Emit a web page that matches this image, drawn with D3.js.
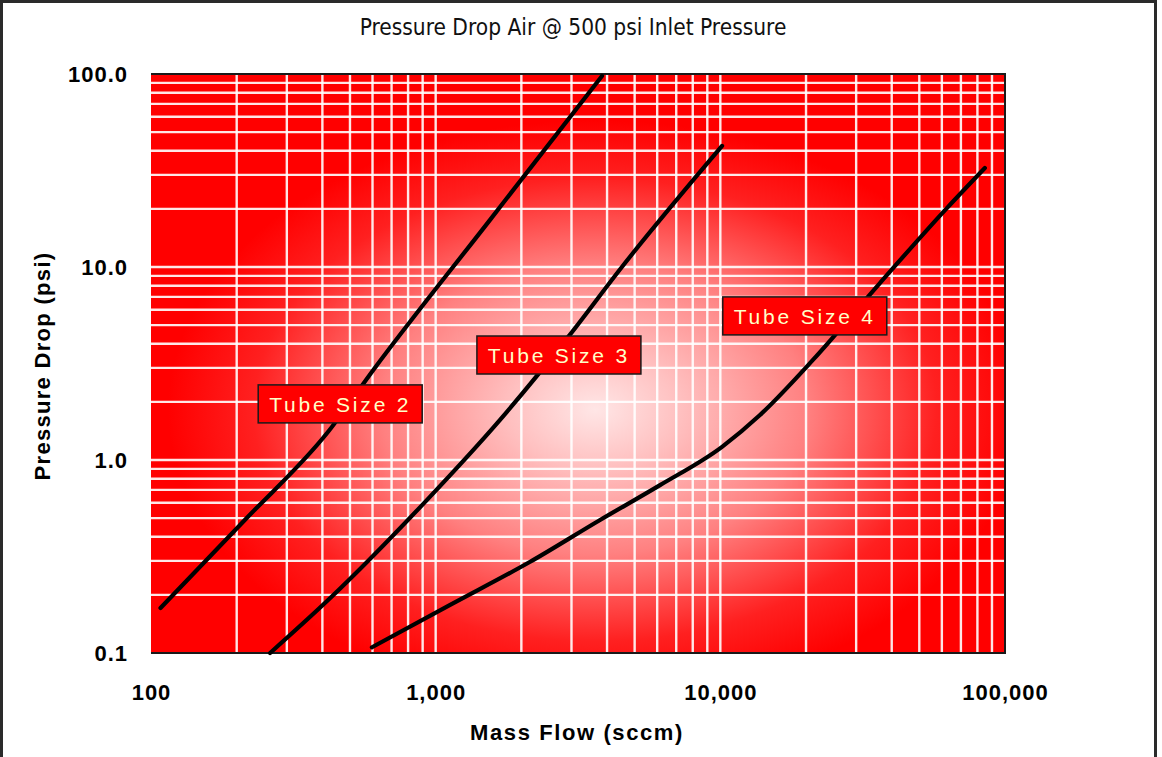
<!DOCTYPE html>
<html>
<head>
<meta charset="utf-8">
<script src="https://cdn.jsdelivr.net/npm/d3@7"></script>
<style>
  body { margin: 0; background: #fff; }
  svg { display: block; }
</style>
</head>
<body>
<div id="chart"></div>
<script>
// Chart size
var svgWidth = 1162;
var svgHeight = 757;

// plot box in pixels
var plot = { left: 151, top: 74, right: 1005, bottom: 653 };

// Data (mass flow in sccm, pressure drop in psi)
var seriesNames = ["Tube Size 2", "Tube Size 3", "Tube Size 4"];

var tube2Flow = [108, 214, 419, 603, 1550, 3840];
var tube2Drop = [0.171, 0.49, 1.40, 2.92, 17.5, 97.7];

var tube3Flow = [262, 419, 931, 1680, 2960, 4510, 10140];
var tube3Drop = [0.10, 0.188, 0.62, 1.61, 4.45, 10.0, 42.4];

var tube4Flow = [597, 1120, 2140, 3780, 6140, 10140, 13780, 21150, 36360, 62500, 84960];
var tube4Drop = [0.107, 0.177, 0.296, 0.489, 0.741, 1.17, 1.71, 3.30, 8.26, 20.2, 32.6];

var xTicks = [100, 1000, 10000, 100000];
var yTicks = [0.1, 1, 10, 100];

var svg = d3.select("#chart")
    .append("svg")
    .attr("width", svgWidth)
    .attr("height", svgHeight);

// outer frame
svg.append("rect")
    .attr("x", 1.5).attr("y", 1.5)
    .attr("width", 1154).attr("height", 790)
    .attr("fill", "none")
    .attr("stroke", "#2a2a2a")
    .attr("stroke-width", 3);

// Scales
var x = d3.scaleLog()
    .domain([100, 100000])
    .range([plot.left, plot.right]);
var y = d3.scaleLog()
    .domain([0.1, 100])
    .range([plot.bottom, plot.top]);

// background glow
var defs = svg.append("defs");
var grad = defs.append("radialGradient")
    .attr("id", "glow")
    .attr("cx", 0.52).attr("cy", 0.58).attr("r", 0.5);
[[0, "#ffe6e6"], [0.2, "#ffc0c0"], [0.5, "#ff8080"], [0.8, "#ff2020"], [1, "#ff0000"]]
    .forEach(function(s) {
        grad.append("stop").attr("offset", s[0]).attr("stop-color", s[1]);
    });

svg.append("rect")
    .attr("x", plot.left).attr("y", plot.top)
    .attr("width", plot.right - plot.left)
    .attr("height", plot.bottom - plot.top)
    .attr("fill", "url(#glow)");

// grid lines, every 1..9 in each decade
var gridX = x.ticks().filter(function(d) { return d > 100 && d < 100000; });
var gridY = y.ticks().filter(function(d) { return d > 0.1 && d < 100; });

svg.append("g").selectAll("line")
    .data(gridX)
    .enter()
    .append("line")
    .attr("x1", d => x(d)).attr("x2", d => x(d))
    .attr("y1", plot.top).attr("y2", plot.bottom)
    .attr("stroke", "#fff")
    .attr("stroke-opacity", 0.9)
    .attr("stroke-width", 2.4);

svg.append("g").selectAll("line")
    .data(gridY)
    .enter()
    .append("line")
    .attr("y1", d => y(d)).attr("y2", d => y(d))
    .attr("x1", plot.left).attr("x2", plot.right)
    .attr("stroke", "#fff")
    .attr("stroke-opacity", 0.9)
    .attr("stroke-width", 2.4);

// plot border: top, right, bottom
svg.append("path")
    .attr("d", "M" + plot.left + "," + plot.top + "H" + plot.right + "V" + plot.bottom + "H" + plot.left)
    .attr("fill", "none")
    .attr("stroke", "#1a1a1a")
    .attr("stroke-width", 2);

// curves
var line = d3.line()
    .x(d => x(d[0]))
    .y(d => y(d[1]))
    .curve(d3.curveMonotoneX);

[[tube2Flow, tube2Drop], [tube3Flow, tube3Drop], [tube4Flow, tube4Drop]].forEach(function(s) {
    svg.append("path")
        .datum(d3.zip(s[0], s[1]))
        .attr("d", line)
        .attr("fill", "none")
        .attr("stroke", "#000")
        .attr("stroke-width", 4.2)
        .attr("stroke-linecap", "round");
});

// series labels (top-left corner of each box, in data units)
var labelAt = [[238, 2.45], [1396, 4.39], [10200, 7.0]];
seriesNames.forEach(function(name, i) {
    var bx = x(labelAt[i][0]), by = y(labelAt[i][1]);
    svg.append("rect")
        .attr("x", bx).attr("y", by)
        .attr("width", 164).attr("height", 38)
        .attr("fill", "#ff0000")
        .attr("stroke", "#1a1a1a")
        .attr("stroke-width", 1.5);
    svg.append("text")
        .attr("x", bx + 82).attr("y", by + 27)
        .attr("text-anchor", "middle")
        .attr("font-family", "Liberation Sans, Arial, sans-serif")
        .attr("font-size", "21px")
        .attr("letter-spacing", "2.8px")
        .attr("fill", "#ffffc8")
        .text(name);
});

// axes
var xAxis = d3.axisBottom(x).tickValues(xTicks).tickFormat(d3.format(",")).tickSize(0);
var yAxis = d3.axisLeft(y).tickValues(yTicks).tickFormat(d3.format(".1f")).tickSize(0);

var gx = svg.append("g")
    .attr("transform", `translate(0, ${plot.bottom})`)
    .call(xAxis);
var gy = svg.append("g")
    .attr("transform", `translate(${plot.left}, 0)`)
    .call(yAxis);

gx.select(".domain").remove();
gy.select(".domain").remove();

gx.selectAll("text")
    .attr("dy", 0)
    .attr("y", 47)
    .attr("font-family", "Liberation Sans, Arial, sans-serif")
    .attr("font-weight", "bold")
    .attr("font-size", "22px")
    .attr("letter-spacing", "1px")
    .attr("fill", "#000");
gy.selectAll("text")
    .attr("dy", "0.35em")
    .attr("x", -23)
    .attr("font-family", "Liberation Sans, Arial, sans-serif")
    .attr("font-weight", "bold")
    .attr("font-size", "22px")
    .attr("letter-spacing", "1px")
    .attr("fill", "#000");

// titles
svg.append("text")
    .attr("x", 573).attr("y", 35)
    .attr("text-anchor", "middle")
    .attr("font-family", "DejaVu Sans Condensed, Liberation Sans Narrow, sans-serif")
    .attr("font-size", "22.5px")
    .attr("fill", "#111")
    .text("Pressure Drop Air @ 500 psi Inlet Pressure");

svg.append("text")
    .attr("x", 577).attr("y", 740)
    .attr("text-anchor", "middle")
    .attr("font-family", "Liberation Sans, Arial, sans-serif")
    .attr("font-weight", "bold")
    .attr("font-size", "22px")
    .attr("letter-spacing", "1.6px")
    .text("Mass Flow (sccm)");

svg.append("text")
    .attr("transform", "translate(50, 366) rotate(-90)")
    .attr("text-anchor", "middle")
    .attr("font-family", "Liberation Sans, Arial, sans-serif")
    .attr("font-weight", "bold")
    .attr("font-size", "22px")
    .attr("letter-spacing", "1.3px")
    .text("Pressure Drop (psi)");
</script>
</body>
</html>
